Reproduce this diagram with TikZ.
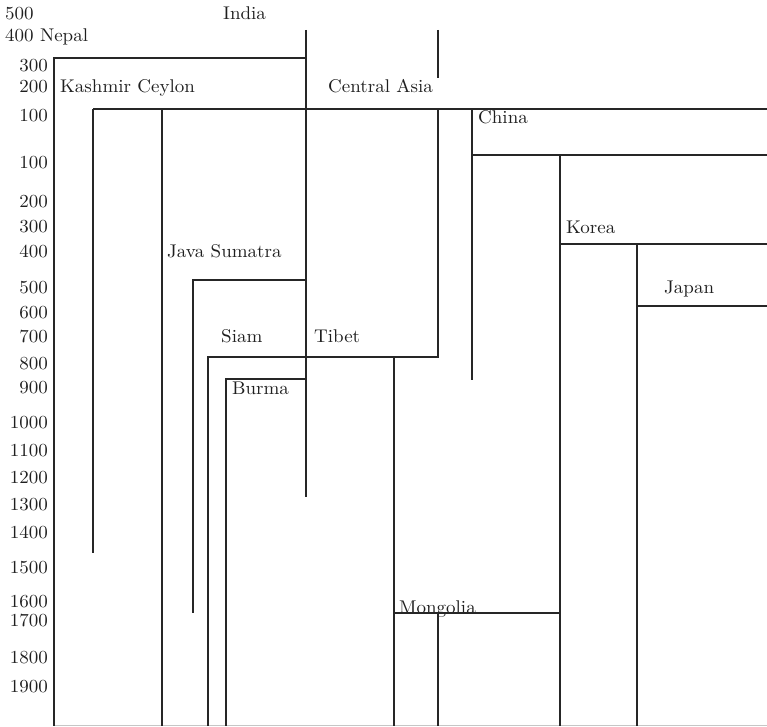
\documentclass[tikz,border=0pt]{standalone}
\usepackage{graphicx}
\newcommand{\lbl}[1]{\scalebox{1.9}[1.84]{\fontsize{10}{12}\selectfont #1}}
\begin{document}
\begin{tikzpicture}[x=1pt,y=1pt,
  ln/.style={line width=1.6pt,draw=black!85},
  yr/.style={inner sep=0pt,anchor=base east,text=black!88},
  lb/.style={inner sep=0pt,anchor=base west,text=black!88}]
\useasboundingbox (0,0) rectangle (767,726);
% year labels
\node[lb] (y500a) at (5,706.5) {\lbl{500}};
\node[lb] (y400a) at (5,684.5) {\lbl{400 Nepal}};
\foreach \t/\y [count=\i] in {300/654.5,200/633.5,100/604.5,100/557.5,200/518.5,300/493,400/468.5,500/432.5,600/407.5,700/383.5,800/356,900/332.5,1000/297.5,1100/269.5,1200/242.5,1300/215.5,1400/187.5,1500/152.5,1600/118.5,1700/99.5,1800/62.5,1900/33.5}
  \node[yr] (yr\i) at (48,\y) {\lbl{\t}};
% region labels
\node[lb] (india) at (223,706.5) {\lbl{India}};
\node[lb] (kashmir) at (60,633.5) {\lbl{Kashmir Ceylon}};
\node[lb] (casia) at (328,633.5) {\lbl{Central Asia}};
\node[lb] (china) at (478,602.5) {\lbl{China}};
\node[lb] (korea) at (566,492.5) {\lbl{Korea}};
\node[lb] (japan) at (664,432.5) {\lbl{Japan}};
\node[lb] (java) at (167,468.5) {\lbl{Java Sumatra}};
\node[lb] (siam) at (221,383.5) {\lbl{Siam}};
\node[lb] (tibet) at (314,383.5) {\lbl{Tibet}};
\node[lb] (burma) at (232,331.5) {\lbl{Burma}};
\node[lb] (mongolia) at (399,113) {\lbl{Mongolia}};
% bottom rule
\draw[gray!45,line width=1pt] (54,0.5) -- (767,0.5);
% axis & Nepal
\draw[ln] (306,668) -- (54,668) -- (54,0);
% India
\draw[ln] (306,696) -- (306,229);
% Central Asia top
\draw[ln] (438,696) -- (438,648);
% main horizontal
\draw[ln] (93,617) -- (767,617);
% Kashmir, Ceylon
\draw[ln] (93,617) -- (93,173);
\draw[ln] (162,617) -- (162,0);
% Central Asia -> Tibet
\draw[ln] (438,617) -- (438,369) -- (208,369) -- (208,0);
% China
\draw[ln] (472,617) -- (472,346);
\draw[ln] (767,571) -- (472,571);
% Korea
\draw[ln] (560,571) -- (560,0);
\draw[ln] (560,482) -- (767,482);
% Japan
\draw[ln] (637,482) -- (637,0);
\draw[ln] (637,420) -- (767,420);
% Java Sumatra
\draw[ln] (306,446) -- (193,446) -- (193,113);
% Burma
\draw[ln] (306,347) -- (226,347) -- (226,0);
% Tibet
\draw[ln] (394,369) -- (394,0);
% Mongolia
\draw[ln] (560,113) -- (394,113);
\draw[ln] (438,113) -- (438,0);
\end{tikzpicture}
\end{document}
